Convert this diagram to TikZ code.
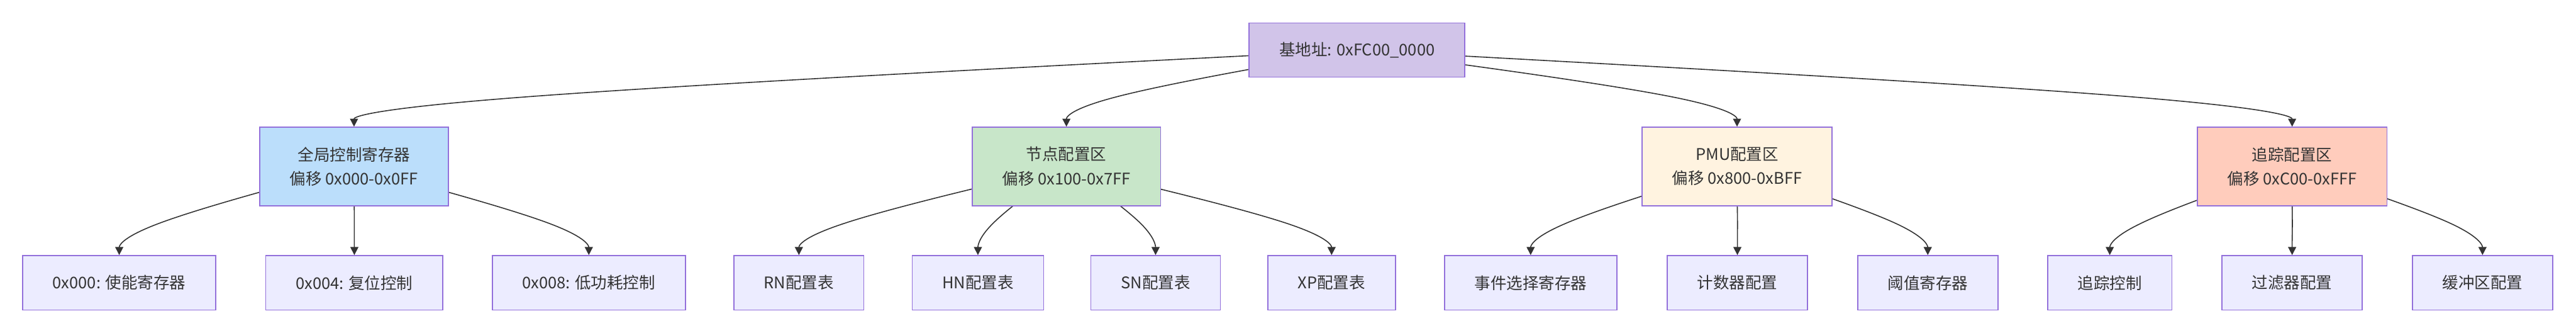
\documentclass[tikz,border=0pt]{standalone}
\usepackage{fontspec}
\setmainfont{Noto Sans CJK SC}
\usepackage{tikz}
\usetikzlibrary{positioning, arrows.meta, calc, backgrounds}
\definecolor{ink}{HTML}{333333}
\definecolor{boxline}{HTML}{9370DB}
\definecolor{rootfill}{HTML}{D1C4E9}
\definecolor{gcrfill}{HTML}{BBDEFB}
\definecolor{nodefill}{HTML}{C8E6C9}
\definecolor{pmufill}{HTML}{FFF3E0}
\definecolor{tracefill}{HTML}{FFCCBC}
\definecolor{leaffill}{HTML}{ECECFF}

\begin{document}
\begin{tikzpicture}[
  x=1.0cm, y=1.0cm,
  every node/.style={font=\fontsize{13.66pt}{20.5pt}\selectfont, text=ink},
  box/.style={draw=boxline, line width=0.03cm, inner xsep=0.9cm, inner ysep=0pt, align=center},
  rootbox/.style={box, fill=rootfill, minimum height=1.62cm},
  region/.style={box, minimum height=2.35cm},
  leaf/.style={box, fill=leaffill, minimum height=1.63cm},
  link/.style={draw=ink, line width=0.03cm, -{Triangle[length=0.24cm, width=0.24cm]}}
]
\useasboundingbox (0,0) rectangle (77.13,-9.96);
% base address
\node[rootbox] (base) at (40.63,-1.50) {基地址: 0xFC00\_0000};
% regions
\node[region, fill=gcrfill] (gcr) at (10.60,-4.98) {全局控制寄存器\\偏移 0x000-0x0FF};
\node[region, fill=nodefill] (nodecfg) at (31.93,-4.98) {节点配置区\\偏移 0x100-0x7FF};
\node[region, fill=pmufill] (pmu) at (52.01,-4.98) {PMU配置区\\偏移 0x800-0xBFF};
\node[region, fill=tracefill] (trace) at (68.63,-4.98) {追踪配置区\\偏移 0xC00-0xFFF};
% registers and tables
\node[leaf] (en) at (3.57,-8.46) {0x000: 使能寄存器};
\node[leaf] (rst) at (10.61,-8.46) {0x004: 复位控制};
\node[leaf] (lp) at (17.63,-8.46) {0x008: 低功耗控制};
\node[leaf] (rn) at (23.92,-8.46) {RN配置表};
\node[leaf] (hn) at (29.28,-8.46) {HN配置表};
\node[leaf] (sn) at (34.60,-8.46) {SN配置表};
\node[leaf] (xp) at (39.87,-8.46) {XP配置表};
\node[leaf] (evsel) at (45.83,-8.46) {事件选择寄存器};
\node[leaf] (cnt) at (52.02,-8.46) {计数器配置};
\node[leaf] (thr) at (57.72,-8.46) {阈值寄存器};
\node[leaf] (tctl) at (63.17,-8.46) {追踪控制};
\node[leaf] (filt) at (68.63,-8.46) {过滤器配置};
\node[leaf] (buf) at (74.33,-8.46) {缓冲区配置};
\def\branch#1#2{%
  \coordinate (t) at (#2.north);
  \coordinate (m) at ($(#2.north)+(0,0.75)$);
  \draw[link] (#1.center) -- ($(#1.center)!1/6!(m)$)
    .. controls ($(#1.center)!1/3!(m)$) and ($(#1.center)!2/3!(m)$)
    .. ($0.1667*(#1.center)+0.6667*(m)+0.1667*(t)$)
    .. controls ($(m)!1/3!(t)$) and ($(m)!2/3!(t)$) .. (t);
}
\begin{scope}[on background layer]
\foreach \c in {gcr,nodecfg,pmu,trace} \branch{base}{\c};
\foreach \c in {en,rst,lp} \branch{gcr}{\c};
\foreach \c in {rn,hn,sn,xp} \branch{nodecfg}{\c};
\foreach \c in {evsel,cnt,thr} \branch{pmu}{\c};
\foreach \c in {tctl,filt,buf} \branch{trace}{\c};
\end{scope}
\end{tikzpicture}
\end{document}
